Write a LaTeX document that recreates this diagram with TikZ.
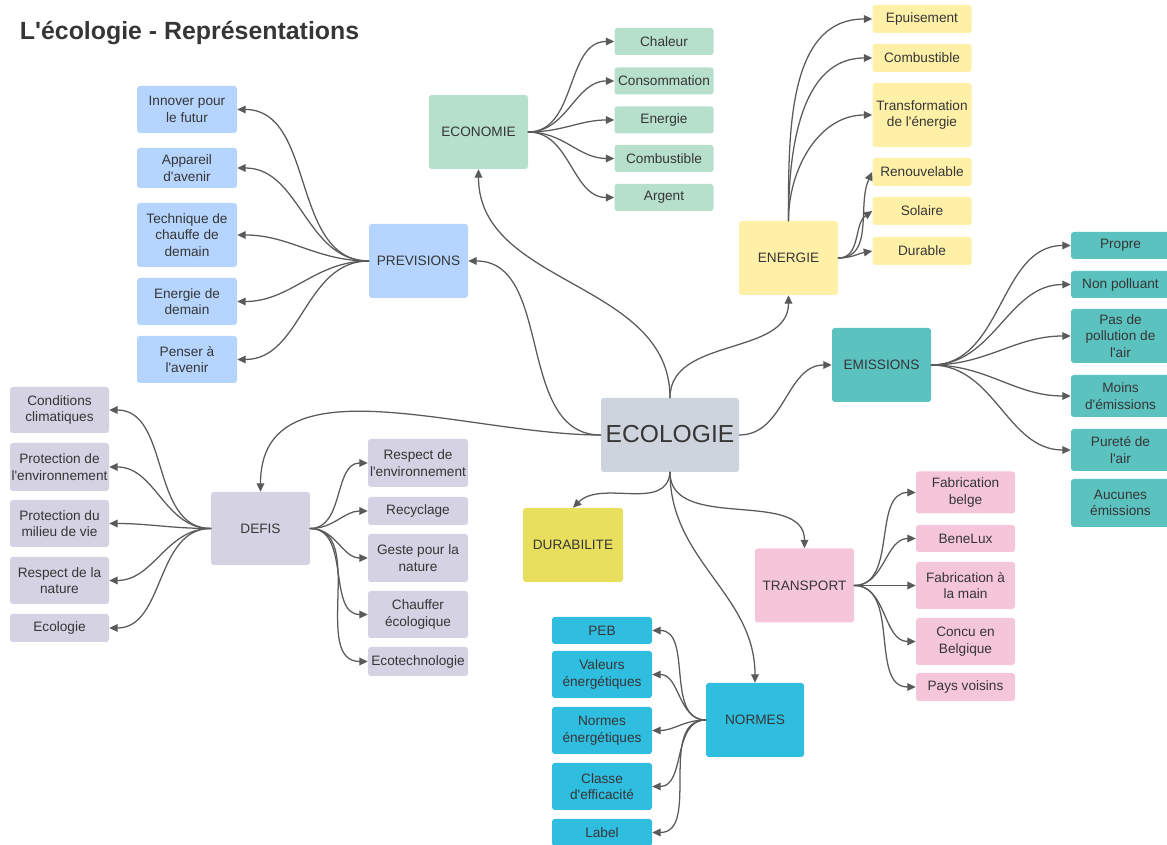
\documentclass[tikz,border=0pt]{standalone}
\usepackage{fontspec}
\setmainfont{Liberation Sans}
\usetikzlibrary{arrows.meta}

\definecolor{txt}{HTML}{363636}
\definecolor{lin}{HTML}{5A5A5A}
\definecolor{cgris}{HTML}{CED4DD}
\definecolor{cvert}{HTML}{B6DFCC}
\definecolor{cbleu}{HTML}{B5D5FF}
\definecolor{cjaune}{HTML}{FFF0A8}
\definecolor{cturq}{HTML}{5BC2C0}
\definecolor{clavande}{HTML}{D4D2E3}
\definecolor{cdurable}{HTML}{E8DF5E}
\definecolor{crose}{HTML}{F5C5D9}
\definecolor{ccyan}{HTML}{2FBDE0}

\newcommand{\ap}{\textquotesingle}

\tikzset{
	box/.style={rectangle, rounded corners=2pt, inner sep=0pt, align=center, text=txt,
		minimum width=99*0.025cm, minimum height=27*0.025cm},
	bh/.style={minimum height=#1*0.025cm},
	bw/.style={minimum width=#1*0.025cm},
	hub/.style={box, minimum height=74*0.025cm},
	arr/.style={draw=lin, line width=0.9pt, -{Triangle[length=6pt,width=5.5pt]}},
}

\begin{document}
\begin{tikzpicture}[x=0.025cm, y=-0.025cm, font=\fontsize{9.7}{11.7}\selectfont, line join=round, line cap=round]
	\useasboundingbox (0,0) rectangle (1167,845);
	\node[anchor=base west, text=txt, font=\bfseries\fontsize{17.7}{20}\selectfont] (titre) at (15,40) {L\ap écologie - Représentations};
	
	% centre
	\node[hub, fill=cgris, bw=138, font=\fontsize{17.5}{20}\selectfont] (ecol) at (670,435) {\raisebox{1.5pt}{ECOLOGIE}};
	
	% economie
	\node[hub, fill=cvert] (econ) at (478.5,132) {ECONOMIE};
	\node[box, fill=cvert] (chaleur) at (664,41.5) {Chaleur};
	\node[box, fill=cvert] (conso) at (664,81) {Consommation};
	\node[box, fill=cvert] (energ1) at (664,120) {Energie};
	\node[box, fill=cvert] (combu1) at (664,158.5) {Combustible};
	\node[box, fill=cvert] (argent) at (664,197.5) {Argent};
	
	% energie
	\node[hub, fill=cjaune] (energ) at (788.5,258) {ENERGIE};
	\node[box, fill=cjaune, bh=28] (epuis) at (922,19) {Epuisement};
	\node[box, fill=cjaune, bh=28] (combu2) at (922,58) {Combustible};
	\node[box, fill=cjaune, bh=64] (transf) at (922,115) {Transformation\\de l\ap énergie};
	\node[box, fill=cjaune, bh=28] (renouv) at (922,172) {Renouvelable};
	\node[box, fill=cjaune, bh=28] (solaire) at (922,211) {Solaire};
	\node[box, fill=cjaune, bh=28] (durab1) at (922,251) {Durable};
	
	% emissions
	\node[hub, fill=cturq] (emis) at (881.5,365) {EMISSIONS};
	\node[box, fill=cturq] (propre) at (1120.5,245.5) {Propre};
	\node[box, fill=cturq] (nonpol) at (1120.5,284.5) {Non polluant};
	\node[box, fill=cturq, bh=54] (paspol) at (1120.5,336) {Pas de\\pollution de\\l\ap air};
	\node[box, fill=cturq, bh=42] (moins) at (1120.5,396) {Moins\\d\ap émissions};
	\node[box, fill=cturq, bh=42] (purete) at (1120.5,450) {Pureté de\\l\ap air};
	\node[box, fill=cturq, bh=48] (aucune) at (1120.5,503) {Aucunes\\émissions};
	
	% transport
	\node[hub, fill=crose] (transp) at (804.5,585.5) {TRANSPORT};
	\node[box, fill=crose, bh=42] (fabbel) at (965.5,492.5) {Fabrication\\belge};
	\node[box, fill=crose] (benelux) at (965.5,538.5) {BeneLux};
	\node[box, fill=crose, bh=47] (fabmain) at (965.5,585.5) {Fabrication à\\la main};
	\node[box, fill=crose, bh=47] (concu) at (965.5,641.5) {Concu en\\Belgique};
	\node[box, fill=crose, bh=28] (pays) at (965.5,687) {Pays voisins};
	
	% normes
	\node[hub, fill=ccyan, bw=98] (normes) at (755,720) {NORMES};
	\node[box, fill=ccyan, bw=100] (peb) at (602,630.5) {PEB};
	\node[box, fill=ccyan, bw=100, bh=47] (valeurs) at (602,674.5) {Valeurs\\énergétiques};
	\node[box, fill=ccyan, bw=100, bh=47] (normen) at (602,730.5) {Normes\\énergétiques};
	\node[box, fill=ccyan, bw=100, bh=47] (classe) at (602,786.5) {Classe\\d\ap efficacité};
	\node[box, fill=ccyan, bw=100] (label) at (602,832.5) {Label};
	
	% durabilite
	\node[hub, fill=cdurable, bw=100] (durab) at (573,545) {DURABILITE};
	
	% defis
	\node[hub, fill=clavande, bh=73] (defis) at (260.5,528.5) {DEFIS};
	\node[box, fill=clavande, bh=46] (condit) at (59.5,410) {Conditions\\climatiques};
	\node[box, fill=clavande, bh=48] (protenv) at (59.5,467) {Protection de\\l\ap environnement};
	\node[box, fill=clavande, bh=47] (protmil) at (59.5,523.5) {Protection du\\milieu de vie};
	\node[box, fill=clavande, bh=47] (respnat) at (59.5,580.5) {Respect de la\\nature};
	\node[box, fill=clavande, bh=28] (ecolo) at (59.5,628) {Ecologie};
	\node[box, fill=clavande, bw=100, bh=48] (respenv) at (418,463) {Respect de\\l\ap environnement};
	\node[box, fill=clavande, bw=100, bh=28] (recycl) at (418,511) {Recyclage};
	\node[box, fill=clavande, bw=100, bh=48] (geste) at (418,558) {Geste pour la\\nature};
	\node[box, fill=clavande, bw=100, bh=47] (chauff) at (418,614.5) {Chauffer\\écologique};
	\node[box, fill=clavande, bw=100, bh=29] (ecotech) at (418,661.5) {Ecotechnologie};
	
	% previsions
	\node[hub, fill=cbleu] (prev) at (418.5,261) {PREVISIONS};
	\node[box, fill=cbleu, bw=100, bh=47] (innov) at (187,109.5) {Innover pour\\le futur};
	\node[box, fill=cbleu, bw=100, bh=40] (appar) at (187,168) {Appareil\\d\ap avenir};
	\node[box, fill=cbleu, bw=100, bh=64] (techn) at (187,235) {Technique de\\chauffe de\\demain};
	\node[box, fill=cbleu, bw=100, bh=47] (enerdem) at (187,301.5) {Energie de\\demain};
	\node[box, fill=cbleu, bw=100, bh=47] (penser) at (187,359.5) {Penser à\\l\ap avenir};
	
	% liens du centre
	\draw[arr] (ecol.north) to[out=90,in=-90] (econ.south);
	\draw[arr] (ecol.north) to[out=90,in=-90] (energ.south);
	\draw[arr] (ecol.west) to[out=180,in=0] (prev.east);
	\draw[arr] (ecol.west) to[out=180,in=90] (defis.north);
	\draw[arr] (ecol.east) to[out=0,in=180] (emis.west);
	\draw[arr] (ecol.south) to[out=-95,in=45] (durab.north);
	\draw[arr] (ecol.south) to[out=-90,in=90] (normes.north);
	\draw[arr] (ecol.south) to[out=-90,in=90] (transp.north);
	
	% branches
	\foreach \n in {chaleur,conso,energ1,combu1,argent}
		\draw[arr] (econ.east) to[out=0,in=180] (\n.west);
	\foreach \n in {epuis,combu2,transf}
		\draw[arr] (energ.north) to[out=90,in=180] (\n.west);
	\draw[arr] (energ.east) to[out=0,in=245] (renouv.west);
	\draw[arr] (energ.east) to[out=0,in=215] (solaire.west);
	\draw[arr] (energ.east) to[out=0,in=190] (durab1.west);
	\foreach \n in {propre,nonpol,paspol,moins,purete}
		\draw[arr] (emis.east) to[out=0,in=180] (\n.west);
	\foreach \n in {fabbel,benelux,fabmain,concu,pays}
		\draw[arr] (transp.east) to[out=0,in=180] (\n.west);
	\foreach \n in {peb,valeurs,normen,classe,label}
		\draw[arr] (normes.west) to[out=180,in=0] (\n.east);
	\foreach \n in {condit,protenv,protmil,respnat,ecolo}
		\draw[arr] (defis.west) to[out=180,in=0] (\n.east);
	\foreach \n in {respenv,recycl,geste,chauff,ecotech}
		\draw[arr] (defis.east) to[out=0,in=180] (\n.west);
	\foreach \n in {innov,appar,techn,enerdem,penser}
		\draw[arr] (prev.west) to[out=180,in=0] (\n.east);
\end{tikzpicture}
\end{document}
